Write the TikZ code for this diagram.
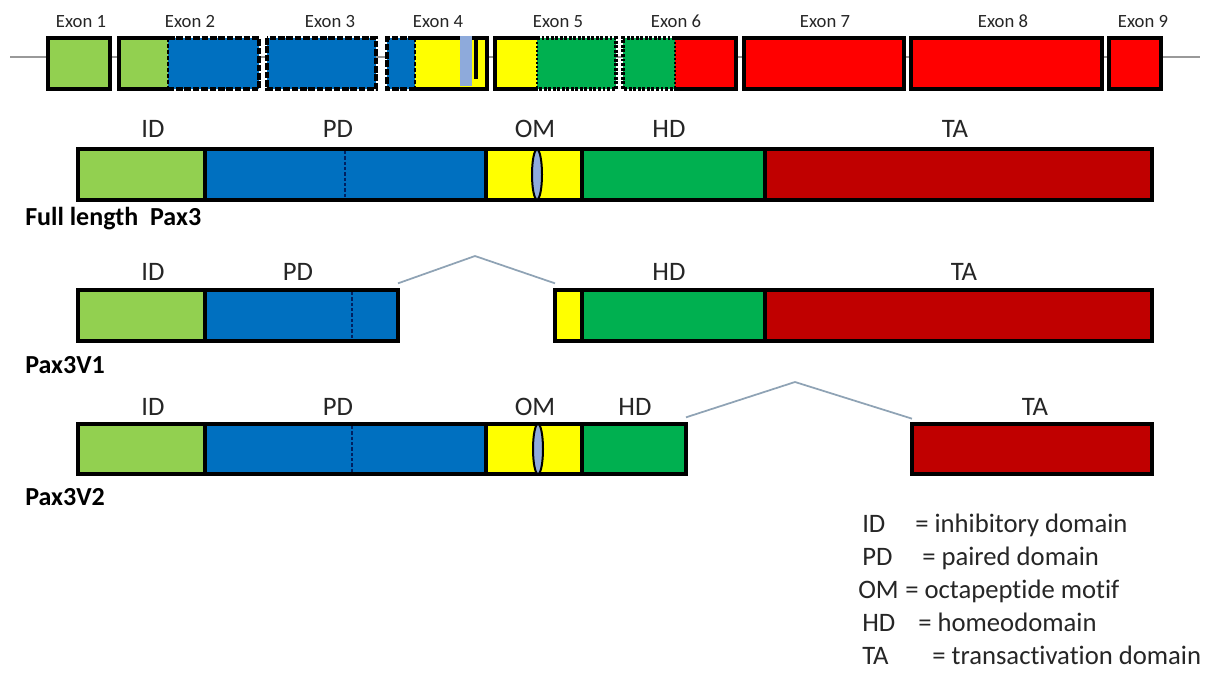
\documentclass[tikz,border=0pt]{standalone}
\usepackage{fontspec}
\setmainfont{Carlito}[Ligatures=NoCommon]
\usetikzlibrary{shapes.geometric}
\definecolor{lgreen}{HTML}{92D050}
\definecolor{pblue}{HTML}{0070C0}
\definecolor{pyellow}{HTML}{FFFF00}
\definecolor{hgreen}{HTML}{00B050}
\definecolor{ered}{HTML}{FF0000}
\definecolor{tared}{HTML}{C00000}
\definecolor{lensblue}{HTML}{8EAADB}
\definecolor{dashblue}{HTML}{002060}
\definecolor{splicegray}{HTML}{8FA3B5}
\definecolor{txt}{HTML}{262626}
\tikzset{
  exsolid/.style={draw=black, line width=2.6pt},
  exdash/.style={draw=black, line width=2.6pt, dash pattern=on 5pt off 1.3pt},
  exdot/.style={draw=black, line width=2.6pt, dash pattern=on 2.2pt off 1.2pt},
  dom/.style={draw=black, line width=2.3pt, rectangle, inner sep=0pt, outer sep=0pt},
  lens/.style={ellipse, draw=black, line width=1.5pt, fill=lensblue, inner sep=0pt,
    minimum width=7.5pt, minimum height=37.5pt},
  pddash/.style={draw=dashblue, line width=1.2pt, dash pattern=on 2.5pt off 1.5pt},
  splice/.style={draw=splicegray, line width=1.3pt},
  exlab/.style={anchor=base, inner sep=0pt, text=txt, font=\fontsize{14}{16}\selectfont},
  dlab/.style={anchor=base, inner sep=0pt, text=txt, font=\fontsize{20}{22}\selectfont},
  namelab/.style={anchor=base west, inner sep=0pt, text=black, font=\bfseries\fontsize{19.5}{21}\selectfont},
  leglab/.style={anchor=base west, inner sep=0pt, text=txt, font=\fontsize{20}{22}\selectfont}
}
\newcommand\dseg[6]{\node[dom, fill=#2, minimum width={(#4-#3)*0.75pt}, minimum height={(#6-#5)*0.75pt}] (#1) at ({(#3+#4)/2},{(#5+#6)/2}) {};}
\begin{document}
\begin{tikzpicture}[x=0.75pt, y=-0.75pt]
\useasboundingbox[fill=white] (0,0) rectangle (1221,676);

% ---------- gene / exon row ----------
\draw[draw=black!40, line width=1.1pt] (10,57) -- (1200,57);
% Exon 1
\draw[exsolid, fill=lgreen] (48,38) rectangle (110,89);
% Exon 2
\fill[lgreen] (119,38) rectangle (168,89);
\fill[pblue] (168,38) rectangle (259,89);
\draw[exsolid] (168,38) -- (119,38) -- (119,89) -- (168,89);
\draw[exdash] (168,38) -- (259,38) -- (259,89) -- (168,89);
\draw[black, line width=1.6pt, dash pattern=on 3pt off 1.5pt] (168,38) -- (168,89);
% Exon 3
\draw[exdash, fill=pblue] (267,38) rectangle (376,89);
% Exon 4
\fill[pblue] (387,38) rectangle (415,89);
\fill[pyellow] (415,38) rectangle (487,89);
\fill[lensblue] (460,36) rectangle (472,86);
\draw[exdash] (415,38) -- (387,38) -- (387,89) -- (415,89);
\draw[exsolid] (415,38) -- (460,38);
\draw[exsolid] (472,38) -- (487,38) -- (487,89) -- (415,89);
\draw[black, line width=1.4pt, dash pattern=on 3pt off 1.5pt] (415,38) -- (415,89);
\draw[black, line width=2.4pt] (476,38) -- (476,79);
% Exon 5
\fill[pyellow] (495,38) rectangle (537,89);
\fill[hgreen] (537,38) rectangle (616,89);
\draw[exsolid] (537,38) -- (495,38) -- (495,89) -- (537,89);
\draw[exdot] (537,38) -- (616,38) -- (616,89) -- (537,89);
\draw[black, line width=1.5pt, dash pattern=on 1.5pt off 1.5pt] (537,38) -- (537,89);
% Exon 6
\fill[hgreen] (623,38) rectangle (675,89);
\fill[ered] (675,38) rectangle (736,89);
\draw[exdot] (675,38) -- (623,38) -- (623,89) -- (675,89);
\draw[exsolid] (675,38) -- (736,38) -- (736,89) -- (675,89);
\draw[black, line width=1.5pt, dash pattern=on 1.5pt off 1.5pt] (675,38) -- (675,89);
% Exons 7-9
\draw[exsolid, fill=ered] (744,38) rectangle (904,89);
\draw[exsolid, fill=ered] (911,38) rectangle (1102,89);
\draw[exsolid, fill=ered] (1109,38) rectangle (1161,89);

\node[exlab] (ex1) at (81,27) {Exon 1};
\node[exlab] (ex2) at (190,27) {Exon 2};
\node[exlab] (ex3) at (330,27) {Exon 3};
\node[exlab] (ex4) at (438,27) {Exon 4};
\node[exlab] (ex5) at (558,27) {Exon 5};
\node[exlab] (ex6) at (676,27) {Exon 6};
\node[exlab] (ex7) at (825,27) {Exon 7};
\node[exlab] (ex8) at (1003,27) {Exon 8};
\node[exlab] (ex9) at (1143,27) {Exon 9};

% ---------- Full length Pax3 ----------
\dseg{id1}{lgreen}{78}{205}{149}{200}
\dseg{pd1}{pblue}{205}{486}{149}{200}
\dseg{om1}{pyellow}{486}{582}{149}{200}
\dseg{hd1}{hgreen}{582}{765}{149}{200}
\dseg{ta1}{tared}{765}{1152}{149}{200}
\draw[pddash] (345,151) -- (345,198);
\node[lens] (lens1) at (537,174.5) {};
\node[dlab] (lid1) at (153,137) {ID};
\node[dlab] (lpd1) at (338,137) {PD};
\node[dlab] (lom1) at (535,137) {OM};
\node[dlab] (lhd1) at (669,137) {HD};
\node[dlab] (lta1) at (955,137) {TA};
\node[namelab] (name1) at (25,225) {Full length\ \ Pax3};

% ---------- Pax3V1 ----------
\dseg{id2}{lgreen}{78}{205}{290}{341}
\dseg{pd2}{pblue}{205}{398}{290}{341}
\dseg{om2}{pyellow}{555}{582}{290}{341}
\dseg{hd2}{hgreen}{582}{765}{290}{341}
\dseg{ta2}{tared}{765}{1152}{290}{341}
\draw[pddash] (352,292) -- (352,339);
\coordinate (apex2) at (475,256);
\draw[splice] ([yshift=5pt]pd2.north east) -- (apex2) -- ([yshift=5pt]om2.north west);
\node[dlab] (lid2) at (153,280) {ID};
\node[dlab] (lpd2) at (298,280) {PD};
\node[dlab] (lhd2) at (669,280) {HD};
\node[dlab] (lta2) at (964,280) {TA};
\node[namelab] (name2) at (25,373) {Pax3V1};

% ---------- Pax3V2 ----------
\dseg{id3}{lgreen}{78}{205}{424}{474}
\dseg{pd3}{pblue}{205}{486}{424}{474}
\dseg{om3}{pyellow}{486}{582}{424}{474}
\dseg{hd3}{hgreen}{582}{686}{424}{474}
\dseg{ta3}{tared}{912}{1152}{424}{474}
\draw[pddash] (352,426) -- (352,472);
\node[lens] (lens3) at (538,449) {};
\coordinate (apex3) at (795,382);
\draw[splice] ([yshift=5pt]hd3.north east) -- (apex3) -- ([yshift=4pt]ta3.north west);
\node[dlab] (lid3) at (153,415) {ID};
\node[dlab] (lpd3) at (338,415) {PD};
\node[dlab] (lom3) at (535,415) {OM};
\node[dlab] (lhd3) at (635,415) {HD};
\node[dlab] (lta3) at (1035,415) {TA};
\node[namelab] (name3) at (25,505) {Pax3V2};

% ---------- legend ----------
\node[leglab] (kid) at (862,532) {ID};
\node[leglab] (vid) at (915,532) {= inhibitory domain};
\node[leglab] (kpd) at (862,565) {PD};
\node[leglab] (vpd) at (922,565) {= paired domain};
\node[leglab] (kom) at (858,598) {OM};
\node[leglab] (vom) at (905,598) {= octapeptide motif};
\node[leglab] (khd) at (862,631) {HD};
\node[leglab] (vhd) at (918,631) {= homeodomain};
\node[leglab] (kta) at (862,664) {TA};
\node[leglab] (vta) at (932,664) {= transactivation domain};
\end{tikzpicture}
\end{document}
